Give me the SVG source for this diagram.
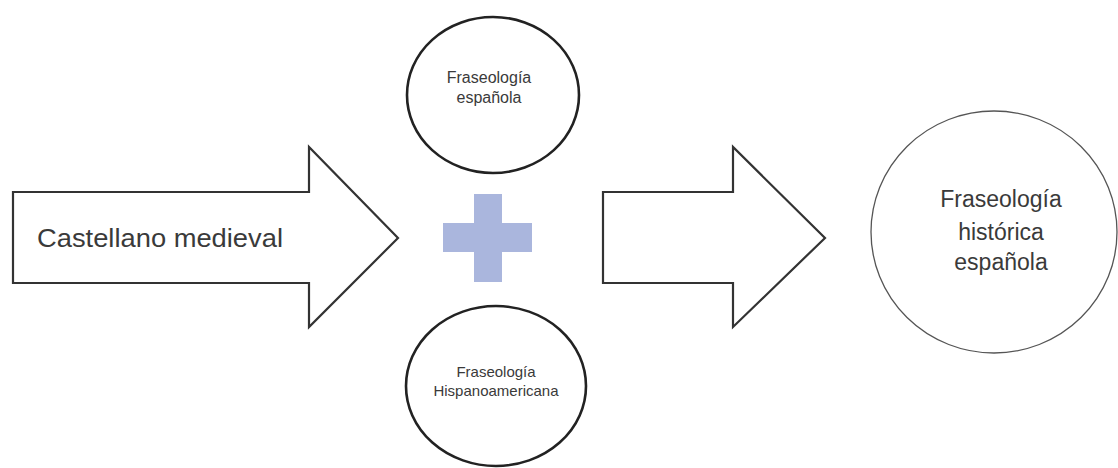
<svg xmlns="http://www.w3.org/2000/svg" width="1118" height="468" viewBox="0 0 1118 468">
<style>
.arrow{fill:#fff;stroke:#333;stroke-width:2.2;stroke-linejoin:miter}
.bold{fill:#fff;stroke:#222;stroke-width:2.6}
.thin{fill:#fff;stroke:#555;stroke-width:1.3}
text{font-family:"Liberation Sans",Arial,sans-serif;fill:#3a3a3a;text-anchor:middle}
</style>
<rect width="1118" height="468" fill="#fff"/>
<g id="castellano">
<polygon class="arrow" points="13,192 309,192 309,147 398,238 309,327 309,283 13,283"/>
<text x="37" y="247" font-size="26" style="text-anchor:start" textLength="246" lengthAdjust="spacingAndGlyphs">Castellano medieval</text>
</g>
<g id="fraseologia-espanola">
<ellipse class="bold" cx="493" cy="95" rx="86" ry="78"/>
<text x="489" y="83" font-size="16">Fraseología</text>
<text x="489" y="103" font-size="16">española</text>
</g>
<g id="plus">
<rect x="474" y="194" width="28" height="88" fill="#aab6dd"/>
<rect x="443" y="223" width="89" height="29" fill="#aab6dd"/>
</g>
<g id="fraseologia-hispanoamericana">
<ellipse class="bold" cx="496" cy="386" rx="90" ry="80"/>
<text x="496" y="377" font-size="15">Fraseología</text>
<text x="496" y="396" font-size="15">Hispanoamericana</text>
</g>
<g id="connectors">
<polygon class="arrow" points="603,192 733,192 733,147 825,238 733,327 733,283 603,283"/>
</g>
<g id="fraseologia-historica">
<ellipse class="thin" cx="994" cy="232" rx="123" ry="121"/>
<text x="1001" y="207" font-size="23">Fraseología</text>
<text x="1001" y="240" font-size="23">histórica</text>
<text x="1001" y="270" font-size="23">española</text>
</g>
</svg>
